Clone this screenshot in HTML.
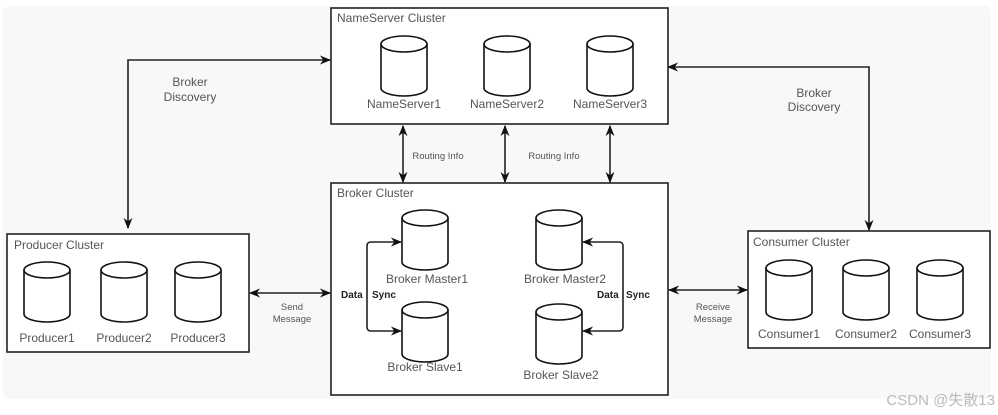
<!DOCTYPE html>
<html><head><meta charset="utf-8"><style>
body{margin:0;background:#fff;}
svg{display:block;font-family:"Liberation Sans",Arial,sans-serif;}
</style></head><body>
<svg width="998" height="415" viewBox="0 0 998 415" xmlns="http://www.w3.org/2000/svg">
<defs>
<marker id="a" viewBox="0 0 10 10" refX="9" refY="5" markerWidth="7" markerHeight="7" orient="auto-start-reverse"><path d="M0,1 L10,5 L0,9 L3,5 Z" fill="#111"/></marker>
<g id="cyl">
<path d="M-23,-22 L-23,22 A23,8 0 0 0 23,22 L23,-22" fill="#fff" stroke="#111" stroke-width="1.6"/>
<ellipse cx="0" cy="-22" rx="23" ry="8" fill="#fff" stroke="#111" stroke-width="1.6"/>
</g>
</defs>
<rect x="3" y="6" width="988" height="393" rx="6" fill="#f8f8f8"/>
<g fill="#fff" stroke="#222" stroke-width="1.6">
<rect x="331" y="8" width="337" height="116"/>
<rect x="331" y="183" width="337" height="212"/>
<rect x="7" y="234" width="242" height="118"/>
<rect x="748" y="231" width="242" height="117"/>
</g>
<g fill="#555" font-size="12">
<text x="337" y="22">NameServer Cluster</text>
<text x="337" y="197">Broker Cluster</text>
<text x="14" y="249">Producer Cluster</text>
<text x="753" y="246">Consumer Cluster</text>
</g>
<use href="#cyl" x="404" y="66"/><use href="#cyl" x="507" y="66"/><use href="#cyl" x="610" y="66"/>
<use href="#cyl" x="47" y="292"/><use href="#cyl" x="124" y="292"/><use href="#cyl" x="198" y="292"/>
<use href="#cyl" x="789" y="290"/><use href="#cyl" x="866" y="290"/><use href="#cyl" x="940" y="290"/>
<use href="#cyl" x="425" y="240"/><use href="#cyl" x="425" y="332"/>
<use href="#cyl" x="559" y="240"/><use href="#cyl" x="559" y="334"/>
<g fill="#555" font-size="12" text-anchor="middle">
<text x="404" y="108">NameServer1</text><text x="507" y="108">NameServer2</text><text x="610" y="108">NameServer3</text>
<text x="47" y="342">Producer1</text><text x="124" y="342">Producer2</text><text x="198" y="342">Producer3</text>
<text x="789" y="338">Consumer1</text><text x="866" y="338">Consumer2</text><text x="940" y="338">Consumer3</text>
<text x="427" y="283">Broker Master1</text><text x="425" y="371">Broker Slave1</text>
<text x="565" y="283">Broker Master2</text><text x="561" y="379">Broker Slave2</text>
<text x="190" y="86">Broker</text><text x="190" y="101">Discovery</text>
<text x="814" y="97">Broker</text><text x="814" y="111">Discovery</text>
</g>
<g fill="#555" font-size="9.5" text-anchor="middle">
<text x="438" y="159">Routing Info</text><text x="554" y="159">Routing Info</text>
<text x="292" y="310">Send</text><text x="292" y="322">Message</text>
<text x="713" y="310">Receive</text><text x="713" y="322">Message</text>
</g>
<g fill="#222" font-size="10" font-weight="bold">
<text x="341" y="298">Data</text><text x="372" y="298">Sync</text>
<text x="597" y="298">Data</text><text x="626" y="298">Sync</text>
</g>
<g fill="none" stroke="#222" stroke-width="1.6">
<path d="M128,228 L128,60 L330,60" marker-start="url(#a)" marker-end="url(#a)"/>
<path d="M668,67 L869,67 L869,230" marker-start="url(#a)" marker-end="url(#a)"/>
<path d="M403,126 L403,182" marker-start="url(#a)" marker-end="url(#a)"/>
<path d="M505,126 L505,182" marker-start="url(#a)" marker-end="url(#a)"/>
<path d="M610,126 L610,182" marker-start="url(#a)" marker-end="url(#a)"/>
<path d="M250,293 L330,293" marker-start="url(#a)" marker-end="url(#a)"/>
<path d="M669,290 L747,290" marker-start="url(#a)" marker-end="url(#a)"/>
<path d="M401,242 L371,242 Q367,242 367,246 L367,327 Q367,331 371,331 L401,331" marker-start="url(#a)" marker-end="url(#a)"/>
<path d="M583,242 L619,242 Q623,242 623,246 L623,327 Q623,331 619,331 L583,331" marker-start="url(#a)" marker-end="url(#a)"/>
</g>
<text x="995" y="405" text-anchor="end" fill="#bbb" font-size="15" font-family="Liberation Sans,'Noto Sans CJK SC',sans-serif">CSDN @失散13</text>
</svg>
</body></html>
